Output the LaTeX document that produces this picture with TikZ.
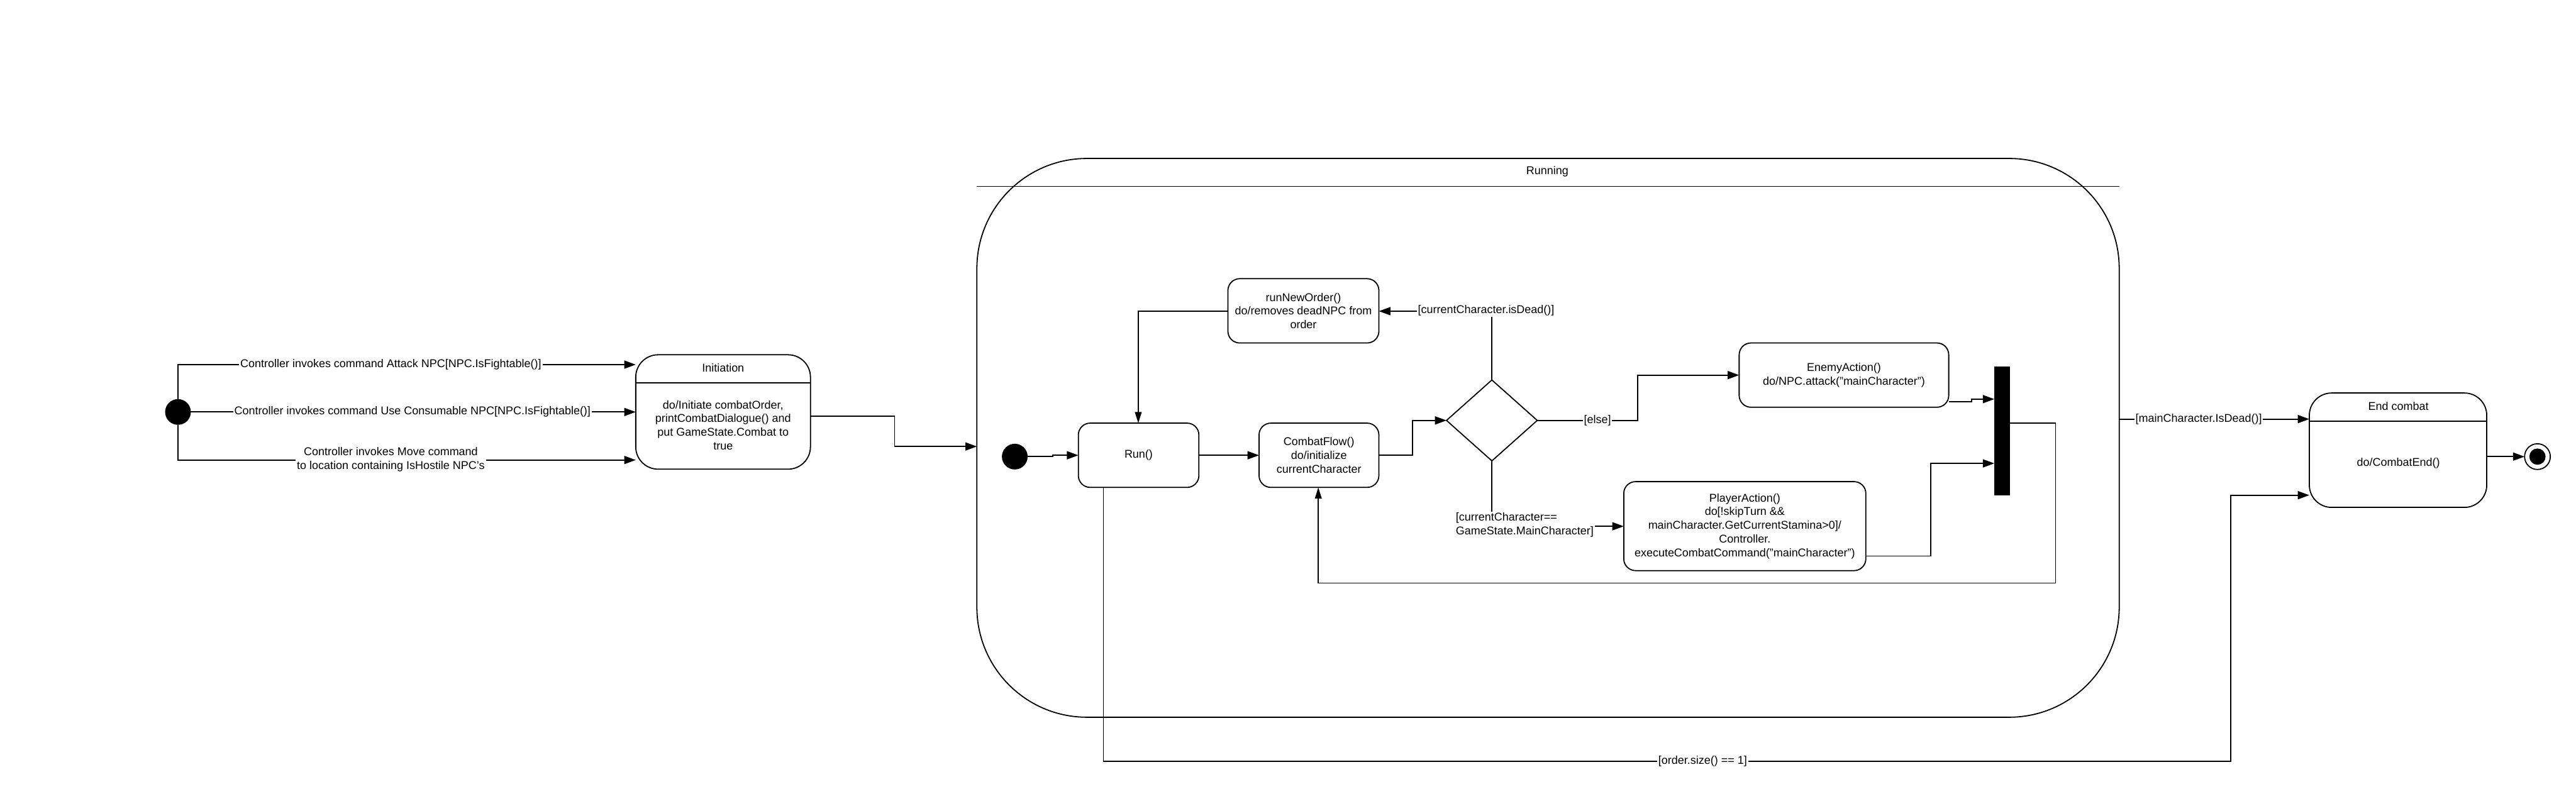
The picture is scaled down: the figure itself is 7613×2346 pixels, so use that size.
\documentclass[tikz,border=0pt]{standalone}
\usepackage{fontspec}
\setmainfont{Liberation Sans}
\usetikzlibrary{arrows.meta,shapes.geometric}
\begin{document}
\begin{tikzpicture}[x=0.01cm,y=-0.01cm,
  every node/.style={font=\fontsize{9.5}{11.5}\selectfont},
  ln/.style={line width=0.95pt},
  conn/.style={ln,-{Triangle[length=0.34cm,width=0.24cm]}},
  thinconn/.style={line width=0.85pt,-{Triangle[length=0.33cm,width=0.2cm]}},
  state/.style={draw,ln,rounded corners=0.35cm,align=center,inner sep=0pt,outer sep=0pt},
  bigstate/.style={draw,ln,rounded corners=0.66cm,inner sep=0pt,outer sep=0pt},
  lbl/.style={fill=white,inner sep=1pt,align=center},
  initdot/.style={circle,fill=black,minimum size=0.76cm,inner sep=0pt,outer sep=0pt},
]
\useasboundingbox (0,0) rectangle (7613,2346);

% ---------- Outer states ----------
\node[initdot] (s0) at (526,1218) {};
\node[bigstate,minimum width=5.16cm,minimum height=3.38cm] (init) at (2137,1218) {};
\draw[ln] (init.west |- 0,1132) -- (init.east |- 0,1132);
\node (initt) at (2137,1088) {Initiation};
\node[align=center] (initb) at (2137,1257) {do/Initiate combatOrder,\\printCombatDialogue() and\\put GameState.Combat to\\true};

\node[draw,ln,rounded corners=3.25cm,minimum width=33.74cm,minimum height=16.51cm,inner sep=0pt,outer sep=0pt] (running) at (4575,1294.5) {};
\draw[ln] (running.west |- 0,551) -- (running.east |- 0,551);
\node (runt) at (4573,507) {Running};

\node[bigstate,minimum width=5.24cm,minimum height=3.38cm] (endc) at (7087,1331) {};
\draw[ln] (endc.west |- 0,1245) -- (endc.east |- 0,1245);
\node (endt) at (7088,1200) {End combat};
\node (endb) at (7088,1370) {do/CombatEnd()};

\node[circle,draw,ln,minimum size=0.76cm,inner sep=0pt,outer sep=0pt] (fin) at (7499,1350) {};
\node[circle,fill=black,minimum size=0.48cm,inner sep=0pt] (finin) at (fin.center) {};

% ---------- Inner states ----------
\node[initdot] (s1) at (2999,1350) {};
\node[state,minimum width=3.56cm,minimum height=1.9cm] (run) at (3365,1346) {Run()};
\node[state,minimum width=3.54cm,minimum height=1.9cm] (cflow) at (3898,1346) {CombatFlow()\\do/initialize\\currentCharacter};
\node[state,minimum width=4.46cm,minimum height=1.9cm] (rno) at (3852,919) {runNewOrder()\\do/removes deadNPC from\\order};
\node[draw,ln,diamond,minimum width=2.68cm,minimum height=2.39cm,inner sep=0pt,outer sep=0pt] (dec) at (4409,1243) {};
\node[state,minimum width=6.19cm,minimum height=1.9cm] (enemy) at (5449.5,1109) {EnemyAction()\\do/NPC.attack("mainCharacter")};
\node[fill=black,minimum width=0.47cm,minimum height=3.81cm,inner sep=0pt,outer sep=0pt] (bar) at (5917.5,1274.5) {};
\node[state,minimum width=7.15cm,minimum height=2.63cm] (player) at (5156.5,1555.5) {PlayerAction()\\do[!skipTurn \&\&\\mainCharacter.GetCurrentStamina>0]/\\Controller.\\executeCombatCommand("mainCharacter")};

% ---------- Connectors ----------
\draw[conn] (s0.north) |- (init.west |- 0,1078);
\draw[conn] (s0.east) -- (init.west);
\draw[conn] (s0.south) |- (init.west |- 0,1360);
\draw[conn] (init.east |- 0,1231) -| (2644,1320) -- (running.west |- 0,1320);

\draw[conn] (s1.east) -- (3111,1350) -- (3111,1346) -- (run.west);
\draw[conn] (run.east) -- (cflow.west);
\draw[conn] (cflow.east) -- (4175,1346) |- (dec.west);
\draw[conn] (dec.north) |- (rno.east |- 0,920);
\draw[thinconn] (rno.west |- 0,920) -| (run.north -| 3364,0);
\draw[conn] (dec.east) -- (4840,1243) |- (enemy.west);
\draw[conn] (enemy.east |- 0,1188) -- (5827,1188) -- (5827,1180) -- (bar.west |- 0,1180);
\draw[conn] (dec.south) |- (player.west |- 0,1556);
\draw[conn] (player.east |- 0,1644) -- (5706,1644) |- (bar.west |- 0,1370);
\draw[thinconn] (bar.east |- 0,1251) -- (6075,1251) -- (6075,1724) -| (cflow.south -| 3896,0);

\draw[conn] (run.south -| 3261,0) -- (3261,2251) -- (6593,2251) |- (endc.west |- 0,1464);
\draw[conn] (running.east |- 0,1239) -- (endc.west |- 0,1239);
\draw[conn] (endc.east |- 0,1350) -- (fin.west);

% ---------- Labels ----------
\node[lbl] (l1) at (1155,1078) {Controller invokes command Attack NPC[NPC.IsFightable()]};
\node[lbl] (l2) at (1219,1218) {Controller invokes command Use Consumable NPC[NPC.IsFightable()]};
\node[lbl] (l3) at (1155,1358) {Controller invokes Move command\\to location containing IsHostile NPC's};
\node[lbl] (l4) at (4392,918) {[currentCharacter.isDead()]};
\node[lbl] (l5) at (4721,1244) {[else]};
\node[lbl,align=left] (l6) at (4506,1552) {[currentCharacter==\\GameState.MainCharacter]};
\node[lbl] (l7) at (5032,2251) {[order.size() == 1]};
\node[lbl] (l8) at (6498,1239) {[mainCharacter.IsDead()]};
\end{tikzpicture}
\end{document}
